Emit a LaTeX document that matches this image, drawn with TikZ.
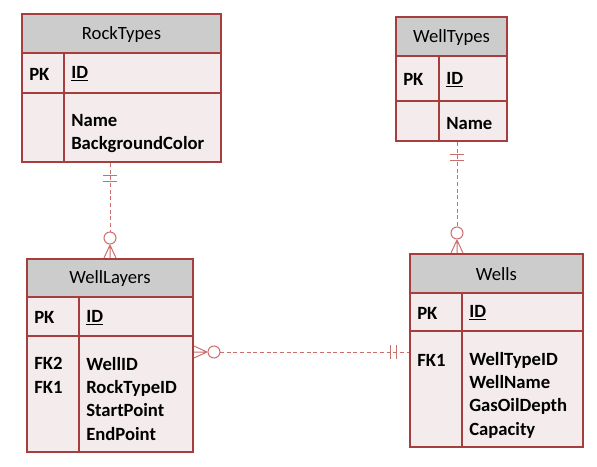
\documentclass[tikz,border=0pt]{standalone}
\usepackage{fontspec}
\setmainfont{Carlito}
\usetikzlibrary{calc, fit}
\definecolor{erdRed} {RGB}{166, 62, 62}
\definecolor{erdFill}{RGB}{244,236,236}
\definecolor{erdHead}{RGB}{204,204,204}
\definecolor{erdLink}{RGB}{205,110,110}

\begin{document}
\begin{tikzpicture}[
  x=0.75pt, y=-0.75pt,
  tblcell/.style={draw=erdRed, fill=erdFill, line width=1.5pt, inner sep=0pt, fit={#1}},
  tblhead/.style={tblcell={#1}, fill=erdHead},
  title/.style={inner sep=0pt, font=\fontsize{14}{17.5}\selectfont},
  keytxt/.style={anchor=west, inner sep=0pt, font=\fontsize{14}{17.5}\selectfont\bfseries},
  % multi-line nodes: base = last line
  fields/.style={anchor=base west, align=left, inner sep=0pt,
    font=\fontsize{14}{17.5}\selectfont\bfseries},
  link/.style={erdLink, line width=0.75pt, dash pattern=on 3pt off 2pt},
  tick/.style={erdLink, line width=0.75pt},
  onebar/.pic={\draw[tick] (-7,13) -- (7,13) (-7,19) -- (7,19);},
  manyend/.pic={
    \draw[tick] (0,-13) -- (-6,0) (0,-13) -- (0,0) (0,-13) -- (6,0);
    \draw[tick, fill=white] (0,-20) circle[radius=4.5pt];},
]
\useasboundingbox (0,0) rectangle (597,467);

%% RockTypes
\node[tblhead={(22,14) (221,53)}]  (rtHead)   {};
\node[tblcell={(22,53) (64,93)}]   (rtPkKey)  {};
\node[tblcell={(64,53) (221,93)}]  (rtPk)     {};
\node[tblcell={(22,93) (64,162)}]  (rtKey)    {};
\node[tblcell={(64,93) (221,162)}] (rtBody)   {};
\node[title]  (rtTitle) at ($(rtHead.center)+(0,1)$) {RockTypes};
\node[keytxt] (rtPkTxt) at ($(rtPkKey.west)+(8,1)$) {PK};
\node[keytxt] (rtIdTxt) at ($(rtPk.west)+(8,1)$)    {\underline{ID}};
\node[fields] (rtFld)   at ($(rtBody.north west)+(8,58)$) {Name\\BackgroundColor};

%% WellTypes
\node[tblhead={(396,17) (507,56)}]   (wtHead)  {};
\node[tblcell={(396,56) (439,101)}]  (wtPkKey) {};
\node[tblcell={(439,56) (507,101)}]  (wtPk)    {};
\node[tblcell={(396,101) (439,141)}] (wtKey)   {};
\node[tblcell={(439,101) (507,141)}] (wtBody)  {};
\node[title]  (wtTitle) at ($(wtHead.center)+(0,1)$) {WellTypes};
\node[keytxt] (wtPkTxt) at ($(wtPkKey.west)+(8,1)$) {PK};
\node[keytxt] (wtIdTxt) at ($(wtPk.west)+(8,1)$)    {\underline{ID}};
\node[fields] (wtFld)   at ($(wtBody.north west)+(8,30)$) {Name};

%% WellLayers
\node[tblhead={(27,259) (193,297)}] (wlHead)  {};
\node[tblcell={(27,297) (79,336)}]  (wlPkKey) {};
\node[tblcell={(79,297) (193,336)}] (wlPk)    {};
\node[tblcell={(27,336) (79,452)}]  (wlKey)   {};
\node[tblcell={(79,336) (193,452)}] (wlBody)  {};
\node[title]  (wlTitle) at ($(wlHead.center)+(0,1)$) {WellLayers};
\node[keytxt] (wlPkTxt) at ($(wlPkKey.west)+(8,1)$) {PK};
\node[keytxt] (wlIdTxt) at ($(wlPk.west)+(8,1)$)    {\underline{ID}};
\node[fields] (wlFk)    at ($(wlKey.north west)+(8,58)$)  {FK2\\FK1};
\node[fields] (wlFld)   at ($(wlBody.north west)+(8,105)$) {WellID\\RockTypeID\\StartPoint\\EndPoint};

%% Wells
\node[tblhead={(410,254) (583,293)}] (wsHead)  {};
\node[tblcell={(410,293) (462,331)}] (wsPkKey) {};
\node[tblcell={(462,293) (583,331)}] (wsPk)    {};
\node[tblcell={(410,331) (462,447)}] (wsKey)   {};
\node[tblcell={(462,331) (583,447)}] (wsBody)  {};
\node[title]  (wsTitle) at ($(wsHead.center)+(0,1)$) {Wells};
\node[keytxt] (wsPkTxt) at ($(wsPkKey.west)+(8,1)$) {PK};
\node[keytxt] (wsIdTxt) at ($(wsPk.west)+(8,1)$)    {\underline{ID}};
\node[fields] (wsFk)    at ($(wsKey.north west)+(8,36)$)  {FK1};
\node[fields] (wsFld)   at ($(wsBody.north west)+(8,105)$) {WellTypeID\\WellName\\GasOilDepth\\Capacity};

%% RockTypes -- WellLayers
\coordinate (rlEnd) at (wlHead.north |- rtBody.south);
\draw[link] (rlEnd) -- ($(wlHead.north)+(0,-26)$);
\pic at (rlEnd) {onebar};
\pic at (wlHead.north) {manyend};

%% WellTypes -- Wells
\coordinate (wsEnd) at ($(wsHead.north west)+(48,0)$);
\coordinate (wtEnd) at (wsEnd |- wtBody.south);
\draw[link] (wtEnd) -- ($(wsEnd)+(0,-26)$);
\pic at (wtEnd) {onebar};
\pic at (wsEnd) {manyend};

%% Wells -- WellLayers
\coordinate (lwEnd) at ($(wlBody.north east)+(0,17)$);
\coordinate (swEnd) at (lwEnd -| wsKey.west);
\draw[link] ($(lwEnd)+(26,0)$) -- (swEnd);
\pic[rotate=-90] at (lwEnd) {manyend};
\pic[rotate=-90] at (swEnd) {onebar};
\end{tikzpicture}
\end{document}
